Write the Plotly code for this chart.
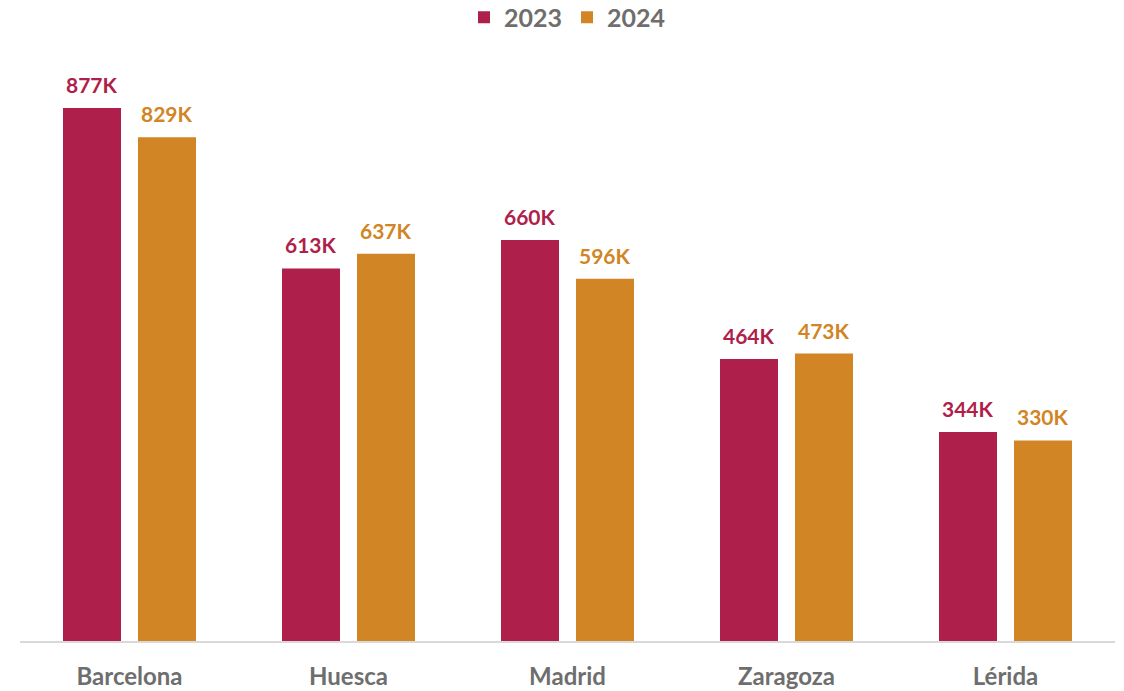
import plotly.graph_objects as go

cities = ["Barcelona", "Huesca", "Madrid", "Zaragoza", "Lérida"]
values_2023 = [877, 613, 660, 464, 344]
values_2024 = [829, 637, 596, 473, 330]
series_names = ["2023", "2024"]
colors = ["#AF1F4B", "#D18524"]

FONT = "Lato"
fig = go.Figure()
for name, vals, col in zip(series_names, [values_2023, values_2024], colors):
    fig.add_trace(go.Bar(
        x=cities, y=vals, name=name, marker=dict(color=col, line=dict(width=0)),
        hoverinfo="skip",
    ))

annotations = []
for i, (vals, col) in enumerate(zip([values_2023, values_2024], colors)):
    shift = -37.5 if i == 0 else 37.5
    for c, v in zip(cities, vals):
        annotations.append(dict(
            x=c, y=v, xref="x", yref="y", text=f"{v}K", showarrow=False,
            xshift=shift, yshift=9, yanchor="bottom",
            font=dict(family=FONT, size=21, color=col, weight="bold"),
        ))

fig.update_layout(
    width=1124, height=691,
    margin=dict(l=20, r=9, t=60, b=50, autoexpand=False),
    paper_bgcolor="white", plot_bgcolor="white",
    barmode="group", bargap=0.315, bargroupgap=0.227,
    showlegend=True,
    legend=dict(orientation="h", x=0.5, xanchor="center", y=1.073, yanchor="middle",
                font=dict(family=FONT, size=25, color="#6E6E6E", weight="bold"),
                itemclick=False, itemdoubleclick=False),
    annotations=annotations,
    xaxis=dict(showgrid=False, showline=True, linecolor="#D9D9D9", linewidth=2,
               ticks="", ticklabelstandoff=13, automargin=False,
               tickfont=dict(family=FONT, size=24, color="#6E6E6E", weight="bold")),
    yaxis=dict(range=[0, 956], visible=False, showgrid=False, zeroline=False,
               automargin=False),
)

fig.write_html("out.html", config={"displayModeBar": False},
               post_script="document.body.style.margin='0';")
